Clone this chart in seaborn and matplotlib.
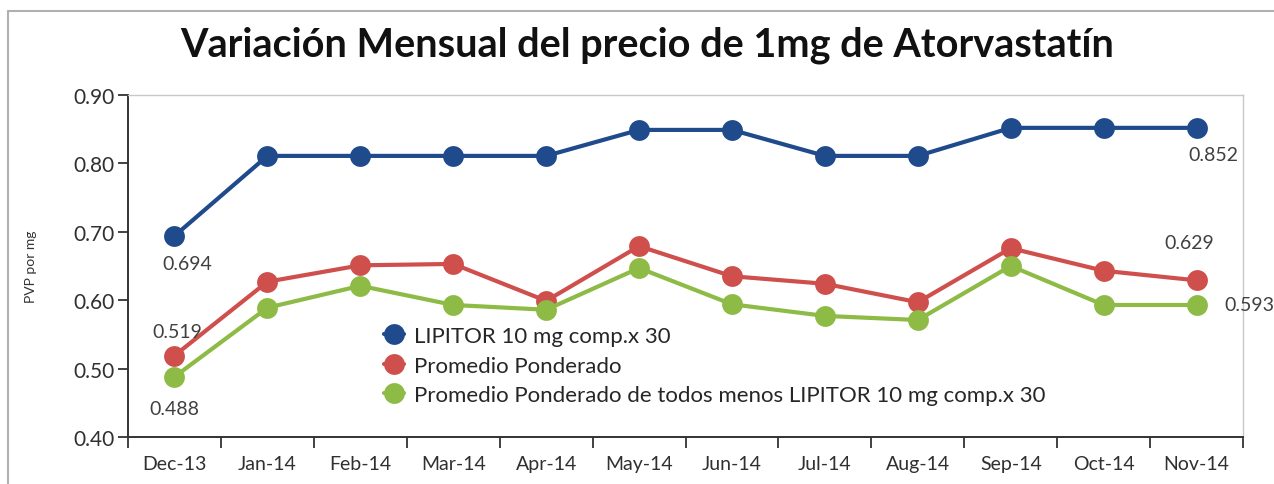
import matplotlib
matplotlib.use("Agg")
import matplotlib.pyplot as plt
import matplotlib.ticker as mticker
import numpy as np
import pandas as pd
import seaborn as sns

sns.set_theme(style="white")
plt.rcParams["font.family"] = ["Lato", "DejaVu Sans"]

MONTHS = ["Dec-13", "Jan-14", "Feb-14", "Mar-14", "Apr-14", "May-14",
          "Jun-14", "Jul-14", "Aug-14", "Sep-14", "Oct-14", "Nov-14"]
LIPITOR = [0.694, 0.811, 0.811, 0.811, 0.811, 0.849,
           0.849, 0.811, 0.811, 0.852, 0.852, 0.852]
PROMEDIO = [0.519, 0.627, 0.651, 0.653, 0.599, 0.679,
            0.635, 0.624, 0.597, 0.676, 0.643, 0.629]
PROMEDIO_SIN = [0.488, 0.589, 0.621, 0.593, 0.586, 0.647,
                0.594, 0.577, 0.571, 0.650, 0.593, 0.593]
SERIES = ["LIPITOR 10 mg comp.x 30",
          "Promedio Ponderado",
          "Promedio Ponderado de todos menos LIPITOR 10 mg comp.x 30"]
COLORS = ["#1f4b8c", "#cf4f4d", "#8dbb45"]

df = pd.DataFrame({
    "pos": list(range(len(MONTHS))) * 3,
    "valor": LIPITOR + PROMEDIO + PROMEDIO_SIN,
    "serie": np.repeat(SERIES, len(MONTHS)),
})

fig = plt.figure(figsize=(12.74, 4.85), dpi=100)
ax = fig.add_axes([0.1005, 0.097, 0.8752, 0.705])

sns.lineplot(data=df, x="pos", y="valor", hue="serie", palette=COLORS,
             marker="o", markersize=15, linewidth=3, markeredgewidth=0,
             ax=ax, legend=True)

ax.set_xlim(-0.5, len(MONTHS) - 0.5)
ax.set_ylim(0.40, 0.90)
ax.yaxis.set_major_locator(mticker.MultipleLocator(0.10))
ax.yaxis.set_major_formatter(mticker.FormatStrFormatter("%.2f"))

# ticks at category boundaries, labels centred
ax.set_xticks(np.arange(-0.5, len(MONTHS), 1.0))
ax.set_xticklabels([])
ax.set_xticks(np.arange(len(MONTHS)), minor=True)
ax.set_xticklabels(MONTHS, minor=True)
ax.tick_params(axis="x", which="major", direction="out", length=8,
               width=1.3, color="#333333", bottom=True)
ax.tick_params(axis="x", which="minor", length=0, pad=13,
               labelsize=14, labelcolor="#303030")
ax.tick_params(axis="y", direction="out", length=7, width=1.3,
               color="#333333", left=True, labelsize=15, labelcolor="#303030",
               pad=3)

for side in ["left", "bottom"]:
    ax.spines[side].set_color("#333333")
    ax.spines[side].set_linewidth(1.4)
for side in ["top", "right"]:
    ax.spines[side].set_color("#c8c8c8")
    ax.spines[side].set_linewidth(1.0)
ax.grid(False)

ax.set_xlabel("")
ax.set_ylabel("PVP por mg", fontsize=10, color="#333333", labelpad=26)

fig.text(0.508, 1 - 45 / 485,
         "Variación Mensual del precio de 1mg de Atorvastatín",
         fontsize=28.5, fontweight="bold", color="#111111",
         ha="center", va="center")

# data labels
lab = dict(fontsize=14, color="#404040", ha="center", va="center",
           textcoords="offset points")
last = len(MONTHS) - 1
ax.annotate(f"{LIPITOR[0]:.3f}", (0, LIPITOR[0]), xytext=(9, -20), **lab)
ax.annotate(f"{LIPITOR[last]:.3f}", (last, LIPITOR[last]), xytext=(12, -19),
            **lab)
ax.annotate(f"{PROMEDIO[0]:.3f}", (0, PROMEDIO[0]), xytext=(2, 17), **lab)
ax.annotate(f"{PROMEDIO[last]:.3f}", (last, PROMEDIO[last]), xytext=(-5, 27),
            **lab)
ax.annotate(f"{PROMEDIO_SIN[0]:.3f}", (0, PROMEDIO_SIN[0]), xytext=(0, -23),
            **lab)
ax.annotate(f"{PROMEDIO_SIN[last]:.3f}", (last, PROMEDIO_SIN[last]),
            xytext=(38, 0), **lab)

leg = ax.legend(loc="upper left", bbox_to_anchor=(0.222, 0.35),
                frameon=False, fontsize=16, handlelength=0.9,
                handletextpad=0.45, labelspacing=0.42, borderaxespad=0)
for h in leg.legend_handles:
    h.set_markersize(15)
for t in leg.get_texts():
    t.set_color("#262626")

# outer frame of the original graphic (top and left edges)
fig.add_artist(plt.Line2D([8 / 1274, 1.0], [1 - 12 / 485, 1 - 12 / 485],
                          transform=fig.transFigure, color="#b0b0b0", lw=1.5))
fig.add_artist(plt.Line2D([8 / 1274, 8 / 1274], [0.0, 1 - 12 / 485],
                          transform=fig.transFigure, color="#b0b0b0", lw=1.5))

fig.savefig("out.png", dpi=100)
